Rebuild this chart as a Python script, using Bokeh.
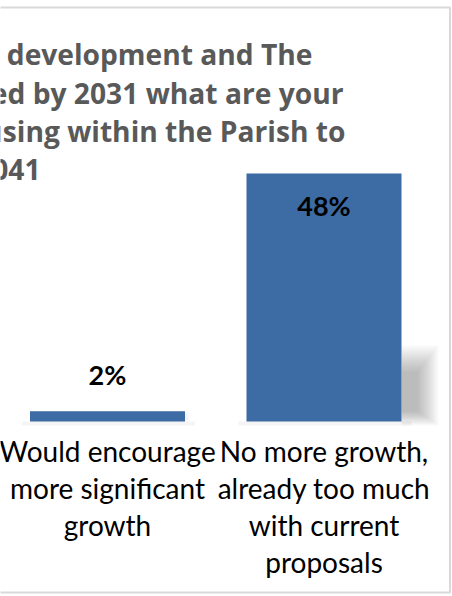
from bokeh.plotting import figure
from bokeh.models import Range1d
from bokeh.core.properties import value
from bokeh.embed import file_html
from bokeh.resources import INLINE
import numpy as np

# ---- data ----
categories = [
    "Would encourage\nmore significant\ngrowth",
    "No more growth,\nalready too much\nwith current\nproposals",
]
percent_values = [2, 48]
value_labels = ["2%", "48%"]
title_lines = [
    "development and The",
    "ed by 2031 what are your",
    "using within the Parish to",
    "041",
]

# ---- layout (pixel mapping of the visible chart area) ----
W, H = 452, 596
PX_X = 216.5            # px per category
PX_Y = 248 / 48.0       # px per percent
x_start = -107 / PX_X
x_end = x_start + W / PX_X
y_end = 421 / PX_Y
y_start = y_end - H / PX_Y

def X(px):
    return x_start + px / PX_X

def Y(py):
    return y_end - py / PX_Y

p = figure(width=W, height=H, output_backend="svg", toolbar_location=None,
           x_range=Range1d(x_start, x_end), y_range=Range1d(y_start, y_end),
           min_border=0, min_border_left=0, min_border_right=0,
           min_border_top=0, min_border_bottom=0)
p.xaxis.visible = False
p.yaxis.visible = False
p.xgrid.visible = False
p.ygrid.visible = False
p.outline_line_color = None
p.background_fill_color = "white"
p.border_fill_color = "white"

xs = np.arange(len(categories), dtype=float)
vals = np.array(percent_values, dtype=float)
bar_w = 155 / PX_X
rights = xs + bar_w / 2
lefts = xs - bar_w / 2

# chart border
p.quad(left=[X(-30)], right=[X(449.5)], top=[Y(7)], bottom=[Y(592)],
       fill_color=None, line_color="#d9d9d9", line_width=2)

# soft shadows
fac = np.minimum(1.0, vals * PX_Y / 74.0)
p.quad(left=lefts - 8 / PX_X, right=rights + 10 / PX_X, top=np.zeros_like(vals),
       bottom=np.full_like(vals, -4 / PX_Y), fill_color="black", fill_alpha=0.04,
       line_color=None)
n = 12
for k in range(n):
    t = k / n
    ext = (37 - 22 * t) * fac
    top = (76 - 28 * t) * fac / PX_Y
    bot = (-4 + 15 * t) * fac / PX_Y
    p.quad(left=rights, right=rights + ext / PX_X, top=top, bottom=bot,
           fill_color="black", fill_alpha=0.022 * fac, line_color=None)

# bars
p.vbar(x=xs, top=vals, width=bar_w, bottom=0, fill_color="#3D6BA4", line_color=None)

# value labels
inside = vals > 10
lab_y = np.where(inside, vals - 32 / PX_Y, vals + 37 / PX_Y)
p.text(x=xs, y=lab_y, text=value_labels, text_align="center", text_baseline="middle",
       text_font=value("Lato"), text_font_style="bold", text_font_size="27px",
       text_color="black")

# category labels
p.text(x=xs, y=[Y(433)] * len(xs), text=categories, text_align="center",
       text_baseline="top", text_font=value("Lato"), text_font_size="28px",
       text_color="black", text_line_height=1.09)

# title (visible right part)
title_right = [312, 343, 345, 40]
title_base = [53.5, 92, 130.5, 169]
p.text(x=[X(v) for v in title_right], y=[Y(v) for v in title_base], text=title_lines,
       text_align="right", text_baseline="alphabetic", text_font=value("Open Sans"),
       text_font_style="bold", text_font_size="28.2px", text_color="#595959")

open("out.html", "w").write(file_html(p, INLINE))
